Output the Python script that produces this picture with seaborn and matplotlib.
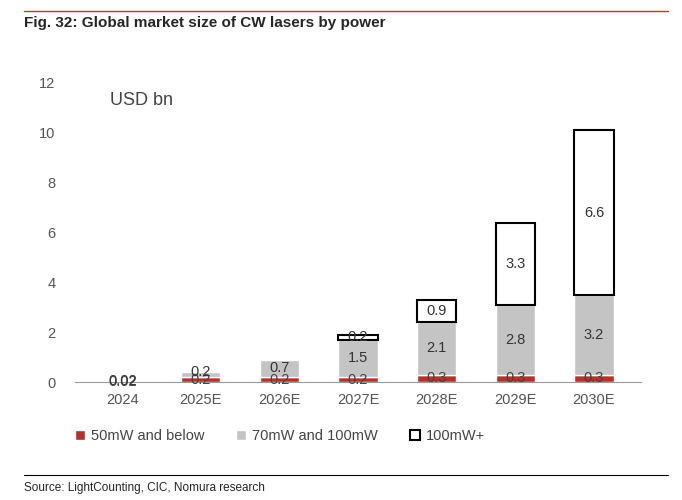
import matplotlib
matplotlib.use("Agg")
import matplotlib.pyplot as plt
import seaborn as sns
import numpy as np
from matplotlib.patches import Patch

sns.set_style("white")
plt.rcParams['font.family'] = ['Liberation Sans', 'DejaVu Sans']

years = ["2024", "2025E", "2026E", "2027E", "2028E", "2029E", "2030E"]
low = [0.02, 0.2, 0.2, 0.2, 0.3, 0.3, 0.3]
mid = [0.0, 0.2, 0.7, 1.5, 2.1, 2.8, 3.2]
high = [0.0, 0.0, 0.0, 0.2, 0.9, 3.3, 6.6]
low_lbl = ["0.02", "0.2", "0.2", "0.2", "0.3", "0.3", "0.3"]
mid_lbl = ["0.02", "0.2", "0.7", "1.5", "2.1", "2.8", "3.2"]
high_lbl = ["", "", "", "0.2", "0.9", "3.3", "6.6"]

red = "#b5312b"; gray = "#c4c4c4"
fig = plt.figure(figsize=(6.82, 5.0), dpi=100)
ax = fig.add_axes([0.11, 0.236, 0.83, 0.598])
x = np.arange(len(years)); w = 0.5
ax.bar(x, low, w, color=red)
ax.bar(x, mid, w, bottom=low, color=gray)
b2 = np.array(low) + np.array(mid)
for i in range(len(x)):
    if high[i] > 0:
        ax.bar(x[i], high[i], w, bottom=b2[i], facecolor="white", edgecolor="black", linewidth=1.5)
for i in range(len(x)):
    ax.text(x[i], low[i] / 2, low_lbl[i], ha="center", va="center", fontsize=10.5, color="#444")
    if i > 0:
        ax.text(x[i], low[i] + mid[i] / 2 + (0.1 if i == 1 else 0), mid_lbl[i],
                ha="center", va="center", fontsize=10.5, color="#333")
    else:
        ax.text(x[i], 0.04, mid_lbl[i], ha="center", va="center", fontsize=10.5, color="#333")
    if high_lbl[i]:
        ax.text(x[i], b2[i] + high[i] / 2, high_lbl[i], ha="center", va="center", fontsize=10.5, color="#333")
ax.set_ylim(0, 12)
ax.set_xlim(-0.6, 6.6)
ax.set_yticks(range(0, 13, 2))
ax.set_xticks(x)
ax.set_xticklabels(years)
ax.tick_params(labelsize=10.5, colors="#555", length=0)
ax.tick_params(axis="x", pad=8)
ax.tick_params(axis="y", pad=14)
for s in ["top", "right", "left"]:
    ax.spines[s].set_visible(False)
ax.spines["bottom"].set_color("#999")
ax.text(-0.15, 11.3, "USD bn", fontsize=13, color="#444", va="center")

handles = [Patch(facecolor=red, label="50mW and below"),
           Patch(facecolor=gray, label="70mW and 100mW"),
           Patch(facecolor="white", edgecolor="black", linewidth=1.5, label="100mW+")]
fig.legend(handles=handles, loc="center left", bbox_to_anchor=(0.09, 0.128), ncol=3, frameon=False,
           fontsize=10.5, handlelength=0.7, handleheight=0.7, columnspacing=2.2, handletextpad=0.4,
           labelcolor="#444")

fig.text(0.035, 0.955, "Fig. 32: Global market size of CW lasers by power", fontsize=11, fontweight="bold", va="center")
fig.add_artist(plt.Line2D([0.035, 0.98], [0.978, 0.978], color="#c0392b", lw=1))
fig.add_artist(plt.Line2D([0.035, 0.98], [0.05, 0.05], color="black", lw=0.8))
fig.text(0.035, 0.025, "Source: LightCounting, CIC, Nomura research", fontsize=8.5, va="center")
fig.savefig("out.png", dpi=100)
